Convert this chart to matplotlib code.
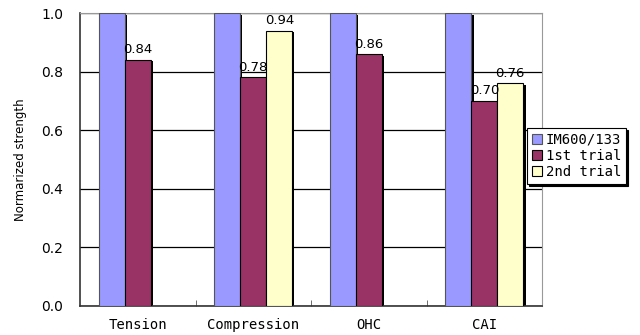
import numpy as np
import matplotlib
matplotlib.use("Agg")
import matplotlib.pyplot as plt
import matplotlib.transforms as mtransforms

categories = ["Tension", "Compression", "OHC", "CAI"]
series_names = ["IM600/133", "1st trial", "2nd trial"]
im600 = [1.0, 1.0, 1.0, 1.0]
trial1 = [0.84, 0.78, 0.86, 0.70]
trial2 = [np.nan, 0.94, np.nan, 0.76]
colors = ["#9999FF", "#993366", "#FFFFCC"]
edges = ["#555555", "black", "black"]

MONO = "DejaVu Sans Mono"

fig = plt.figure(figsize=(6.4, 3.35), dpi=100)
ax = fig.add_axes([0.125, 0.087, 0.722, 0.874])

x = np.arange(len(categories))
width = 0.225
all_series = [im600, trial1, trial2]

# drop shadow behind each bar
shadow = mtransforms.offset_copy(ax.transData, fig=fig, x=2.2, y=-1.5, units="dots")

for i, vals in enumerate(all_series):
    pos = x + (i - 1) * width
    ax.bar(pos, vals, width, color="black", transform=shadow, zorder=2, linewidth=0)
    ax.bar(pos, vals, width, color=colors[i], edgecolor=edges[i], linewidth=0.8,
           zorder=3, label=series_names[i])
    if i > 0:
        for p, v in zip(pos, vals):
            if not np.isnan(v):
                ax.text(p, v + 0.012, f"{v:.2f}", ha="center", va="bottom",
                        fontsize=9.5, zorder=5)

ax.set_ylim(0, 1.0)
ax.set_xlim(-0.5, len(categories) - 0.5)
yt = np.arange(0, 1.01, 0.2)
ax.set_yticks(yt)
ax.set_yticklabels([f"{t:.1f}" for t in yt], fontsize=10)
ax.yaxis.grid(True, color="black", linewidth=0.9, zorder=1)
ax.set_axisbelow(True)

ax.set_xticks(x)
ax.set_xticklabels(categories, fontsize=10, family=MONO)
ax.tick_params(axis="x", length=0, pad=9)
ax.set_xticks(np.arange(0.5, len(categories) - 0.5, 1), minor=True)
ax.tick_params(axis="x", which="minor", direction="in", length=4, color="#555555")
ax.tick_params(axis="y", length=0, pad=12)

ax.set_ylabel("Normarized strength", fontsize=8.5, labelpad=10)

for side in ["top", "right"]:
    ax.spines[side].set_color("#999999")
for side in ["left", "bottom"]:
    ax.spines[side].set_color("#333333")
    ax.spines[side].set_linewidth(1.2)

leg = ax.legend(loc="upper left", bbox_to_anchor=(0.9675, 0.607),
                prop={"family": MONO, "size": 10},
                frameon=True, fancybox=False,
                shadow={"color": "black", "alpha": 1, "ox": 1.5, "oy": -1.5},
                edgecolor="black",
                handlelength=0.7, handleheight=0.7, handletextpad=0.3,
                borderpad=0.35, labelspacing=0.15, borderaxespad=0)
leg.get_frame().set_linewidth(0.8)

fig.savefig("out.png", dpi=100)
